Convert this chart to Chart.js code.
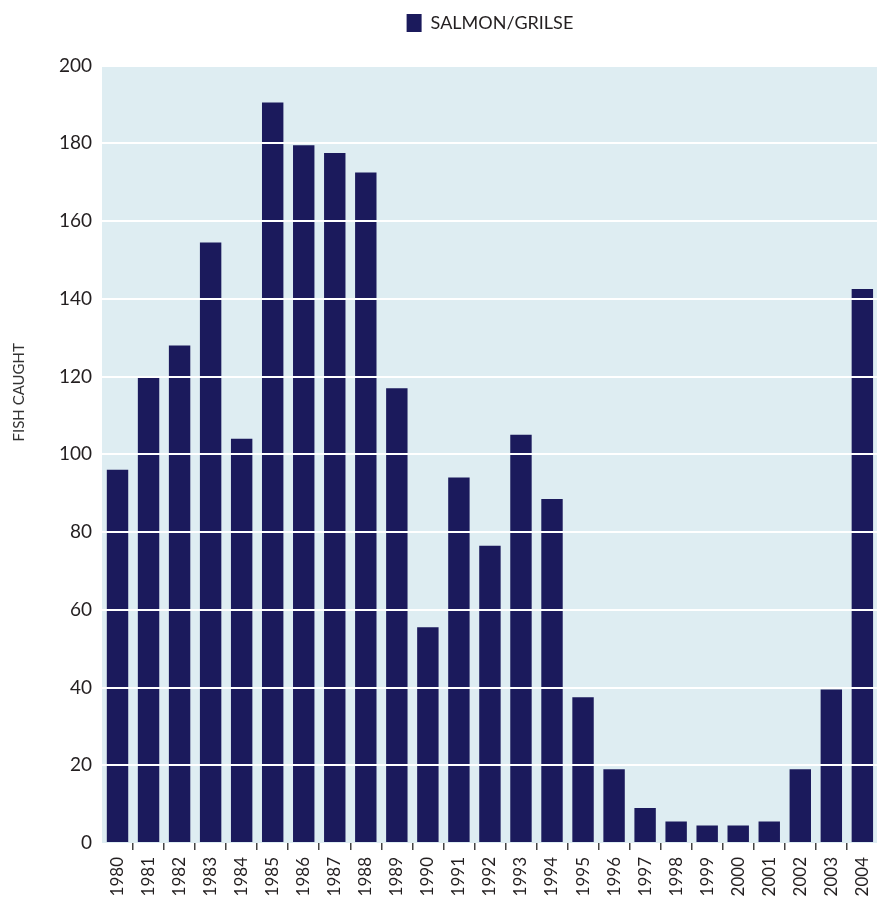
<!DOCTYPE html>
<html>
<head>
<meta charset="utf-8">
<script src="https://cdn.jsdelivr.net/npm/chart.js@4.4.1/dist/chart.umd.min.js"></script>
<style>
  html, body { margin: 0; padding: 0; background: #fff; overflow: hidden; }
  #wrap { width: 877px; height: 897px; overflow: hidden; position: relative; }
  #box { width: 890px; height: 897px; position: absolute; left: 0; top: 0; }
</style>
</head>
<body>
<div id="wrap"><div id="box"><canvas id="fishChart"></canvas></div></div>
<script>
// data
const years = ['1980','1981','1982','1983','1984','1985','1986','1987','1988','1989',
  '1990','1991','1992','1993','1994','1995','1996','1997','1998','1999',
  '2000','2001','2002','2003','2004'];
const salmonGrilse = [96, 120, 128, 154.5, 104, 190.5, 179.5, 177.5, 172.5, 117,
  55.5, 94, 76.5, 105, 88.5, 37.5, 19, 9, 5.5, 4.5,
  4.5, 5.5, 19, 39.5, 142.5];
const yTicks = [0, 20, 40, 60, 80, 100, 120, 140, 160, 180, 200];

const NAVY = '#1b1a5c';
const PANEL = '#deedf2';
const INK = '#231f20';
const FONT = 'Lato, "Open Sans", sans-serif';

// light blue panel behind the bars
const panelBg = {
  id: 'panelBg',
  beforeDraw(chart) {
    const a = chart.chartArea;
    const c = chart.ctx;
    c.save();
    c.fillStyle = PANEL;
    c.fillRect(a.left, a.top, a.right - a.left, a.bottom - a.top);
    c.restore();
  }
};

// y axis caption sits a bit above the middle of the plot in the original
const yCaption = {
  id: 'yCaption',
  afterDraw(chart) {
    const a = chart.chartArea;
    const c = chart.ctx;
    c.save();
    c.translate(19, (a.top + a.bottom) / 2 - 62);
    c.rotate(-Math.PI / 2);
    c.fillStyle = '#333';
    c.font = '15px ' + FONT;
    c.textAlign = 'center';
    c.textBaseline = 'middle';
    c.fillText('FISH CAUGHT', 0, 0);
    c.restore();
  }
};

const ctx = document.getElementById('fishChart').getContext('2d');
new Chart(ctx, {
  type: 'bar',
  data: {
    labels: years,
    datasets: [{
      label: 'SALMON/GRILSE',
      data: salmonGrilse,
      backgroundColor: NAVY,
      borderWidth: 0,
      barPercentage: 0.69,
      categoryPercentage: 1
    }]
  },
  options: {
    responsive: true,
    maintainAspectRatio: false,
    animation: false,
    layout: { padding: { top: 4, right: 2.7, bottom: 0, left: 0 } },
    plugins: {
      legend: {
        position: 'top',
        fullSize: false,
        weight: 1000,
        labels: {
          color: INK,
          boxWidth: 15,
          boxHeight: 18,
          padding: 10,
          font: { family: FONT, size: 18 }
        }
      },
      // empty spacer between legend and plot
      title: {
        display: true,
        text: '',
        fullSize: false,
        weight: 0,
        font: { size: 10 },
        padding: { top: 0, bottom: 11.6 }
      },
      tooltip: { enabled: false }
    },
    scales: {
      x: {
        offset: true,
        border: { display: false },
        grid: {
          offset: true,
          drawOnChartArea: false,
          drawTicks: true,
          tickLength: 7,
          lineWidth: 1.5,
          color: (c) => c.index === 0 ? 'rgba(0,0,0,0)' : '#444'
        },
        ticks: {
          autoSkip: false,
          minRotation: 90,
          maxRotation: 90,
          padding: 7,
          color: INK,
          font: { family: FONT, size: 17 }
        },
        afterFit(scale) { scale.height = 54; }
      },
      y: {
        min: 0,
        max: 200,
        border: { display: false },
        grid: {
          z: 1,
          drawTicks: false,
          lineWidth: 2,
          color: (c) => c.tick && c.tick.value === 0 ? 'rgba(0,0,0,0)' : '#ffffff'
        },
        afterBuildTicks(scale) { scale.ticks = yTicks.map(v => ({ value: v })); },
        ticks: {
          padding: 10,
          color: INK,
          font: { family: FONT, size: 19 }
        },
        afterFit(scale) { scale.width = 102; }
      }
    }
  },
  plugins: [panelBg, yCaption]
});
</script>
</body>
</html>
